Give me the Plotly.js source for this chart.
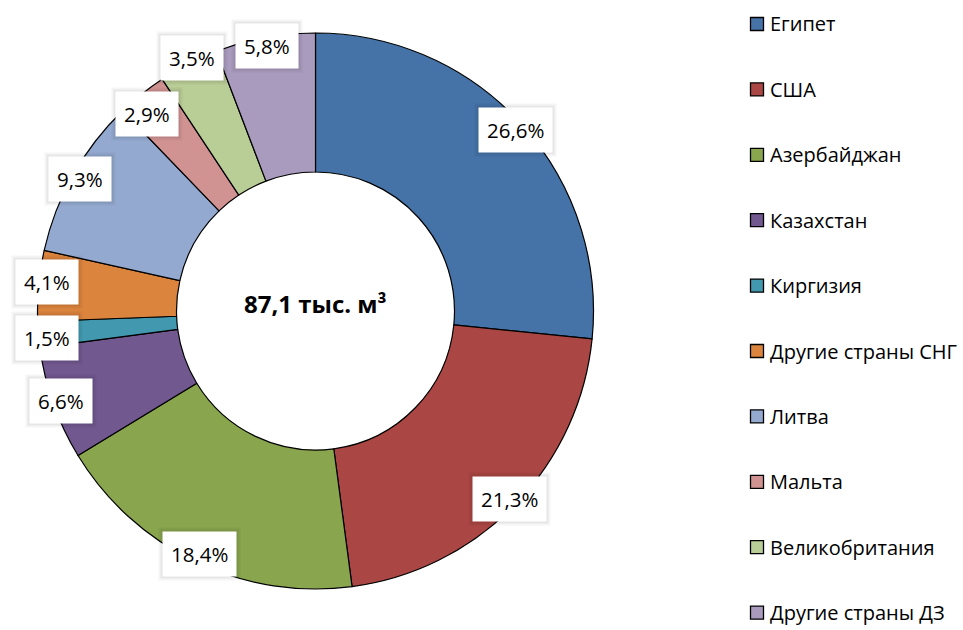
<!DOCTYPE html>
<html>
<head>
<meta charset="utf-8">
<script src="https://cdn.plot.ly/plotly-3.0.1.min.js"></script>
<style>html,body{margin:0;padding:0;background:#fff;}#chart{width:963px;height:630px;}</style>
</head>
<body>
<div id="chart"></div>
<script>
const categories = ["Египет","США","Азербайджан","Казахстан","Киргизия","Другие страны СНГ","Литва","Мальта","Великобритания","Другие страны ДЗ"];
const shares = [26.6, 21.3, 18.4, 6.6, 1.5, 4.1, 9.3, 2.9, 3.5, 5.8];
const labelsText = ["26,6%","21,3%","18,4%","6,6%","1,5%","4,1%","9,3%","2,9%","3,5%","5,8%"];
const colors = ["#4572A7","#AA4643","#89A54E","#71588F","#4198AF","#DB843D","#93A9CF","#D19392","#B9CD96","#A99BBD"];
const centerText = "87,1 тыс. м³";

const W = 963, H = 630;
const cxPx = 315.5, cyPx = 311, R = 278;
const domX = [(cxPx - R) / W, (cxPx + R) / W];
const domY = [1 - (cyPx + R) / H, 1 - (cyPx - R) / H];

const pie = {
  type: "pie",
  values: shares,
  labels: categories,
  sort: false,
  direction: "clockwise",
  rotation: 0,
  hole: 0.5,
  textinfo: "none",
  hoverinfo: "none",
  showlegend: false,
  marker: {colors: colors, line: {color: "#000", width: 1.2}},
  domain: {x: domX, y: domY}
};

// label positions from slice mid-angles, with simple vertical de-overlap
const total = shares.reduce((a, b) => a + b, 0);
let cum = 0;
const rLab = 0.97 * R;
const pos = shares.map((v) => {
  const mid = (cum + v / 2) / total * 2 * Math.PI;
  cum += v;
  return {x: cxPx + rLab * Math.sin(mid), y: cyPx - rLab * Math.cos(mid)};
});
const minGap = 56, boxW = 68;
for (let iter = 0; iter < 30; iter++) {
  for (let i = 0; i < pos.length; i++) {
    for (let j = i + 1; j < pos.length; j++) {
      const dx = Math.abs(pos[i].x - pos[j].x), dy = pos[j].y - pos[i].y;
      if (dx < boxW && Math.abs(dy) < minGap) {
        const push = (minGap - Math.abs(dy)) / 2 * (dy >= 0 ? 1 : -1);
        pos[i].y -= push; pos[j].y += push;
      }
    }
  }
  pos.forEach(p => { p.y = Math.max(24, Math.min(H - 24, p.y)); });
}

const annotations = [];
pos.forEach((p, i) => {
  const base = {x: p.x / W, y: 1 - p.y / H, xref: "paper", yref: "paper", showarrow: false,
    xanchor: "center", yanchor: "middle"};
  const f = {family: "Open Sans", size: 20.5};
  annotations.push(Object.assign({}, base, {text: labelsText[i], font: Object.assign({}, f, {color: "rgba(0,0,0,0)"}),
    bgcolor: "rgba(0,0,0,0.04)", borderpad: 12}));
  annotations.push(Object.assign({}, base, {text: labelsText[i], font: Object.assign({}, f, {color: "rgba(0,0,0,0)"}),
    bgcolor: "rgba(0,0,0,0.06)", borderpad: 10}));
  annotations.push(Object.assign({}, base, {text: labelsText[i], font: Object.assign({}, f, {color: "#000"}),
    bgcolor: "#fff", borderpad: 8}));
});

annotations.push({x: cxPx / W, y: 1 - (cyPx - 8) / H, xref: "paper", yref: "paper", showarrow: false,
  text: "<b>" + centerText + "</b>", font: {family: "Open Sans", size: 24, color: "#000"}, xanchor: "center", yanchor: "middle"});

// legend
const shapes = [];
const legTop = 24, legStep = 65.4;
categories.forEach((c, i) => {
  const y = legTop + legStep * i;
  shapes.push({type: "rect", xref: "paper", yref: "paper",
    x0: 750.5 / W, x1: 763.5 / W, y0: 1 - (y + 6.5) / H, y1: 1 - (y - 6.5) / H,
    fillcolor: colors[i], line: {color: "#000", width: 1.3}});
  annotations.push({x: 768 / W, y: 1 - y / H, xref: "paper", yref: "paper", showarrow: false,
    text: c, font: {family: "Open Sans", size: 20, color: "#000"}, xanchor: "left", yanchor: "middle"});
});

const layout = {
  width: W, height: H,
  margin: {l: 0, r: 0, t: 0, b: 0},
  paper_bgcolor: "#fff",
  plot_bgcolor: "#fff",
  showlegend: false,
  annotations: annotations,
  shapes: shapes
};

Plotly.newPlot("chart", [pie], layout, {staticPlot: true});
</script>
</body>
</html>
